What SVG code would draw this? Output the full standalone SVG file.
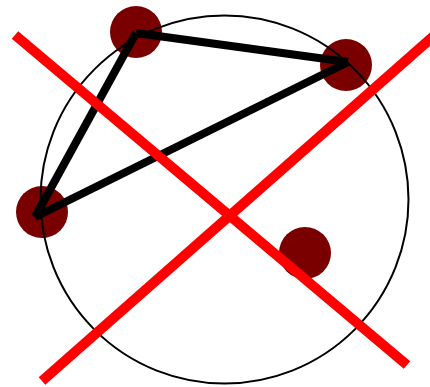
<svg xmlns="http://www.w3.org/2000/svg" width="430" height="387" viewBox="0 0 430 387">
<style>
.dot{fill:#7a0000}
.edge{stroke:#000;stroke-width:8;stroke-linecap:butt;fill:none}
.cross{stroke:#ff0000;stroke-width:10;stroke-linecap:butt}
</style>
<rect width="430" height="387" fill="#fff"/>
<g id="node-a"><circle class="dot" cx="136" cy="32" r="26"/></g>
<g id="node-b"><circle class="dot" cx="346" cy="65" r="26"/></g>
<g id="node-c"><circle class="dot" cx="42" cy="212" r="26"/></g>
<g id="node-d"><circle class="dot" cx="305" cy="253" r="26"/></g>
<g id="circle"><circle cx="224.5" cy="199.5" r="184" fill="none" stroke="#000" stroke-width="2"/></g>
<g id="connectors">
<line class="edge" x1="136" y1="33" x2="348" y2="62"/>
<line class="edge" x1="348" y1="62" x2="35" y2="217"/>
<line class="edge" x1="35" y1="217" x2="136" y2="33"/>
</g>
<g id="cross">
<line class="cross" x1="15" y1="35" x2="407" y2="365"/>
<line class="cross" x1="42" y1="381" x2="436" y2="34"/>
</g>
</svg>
